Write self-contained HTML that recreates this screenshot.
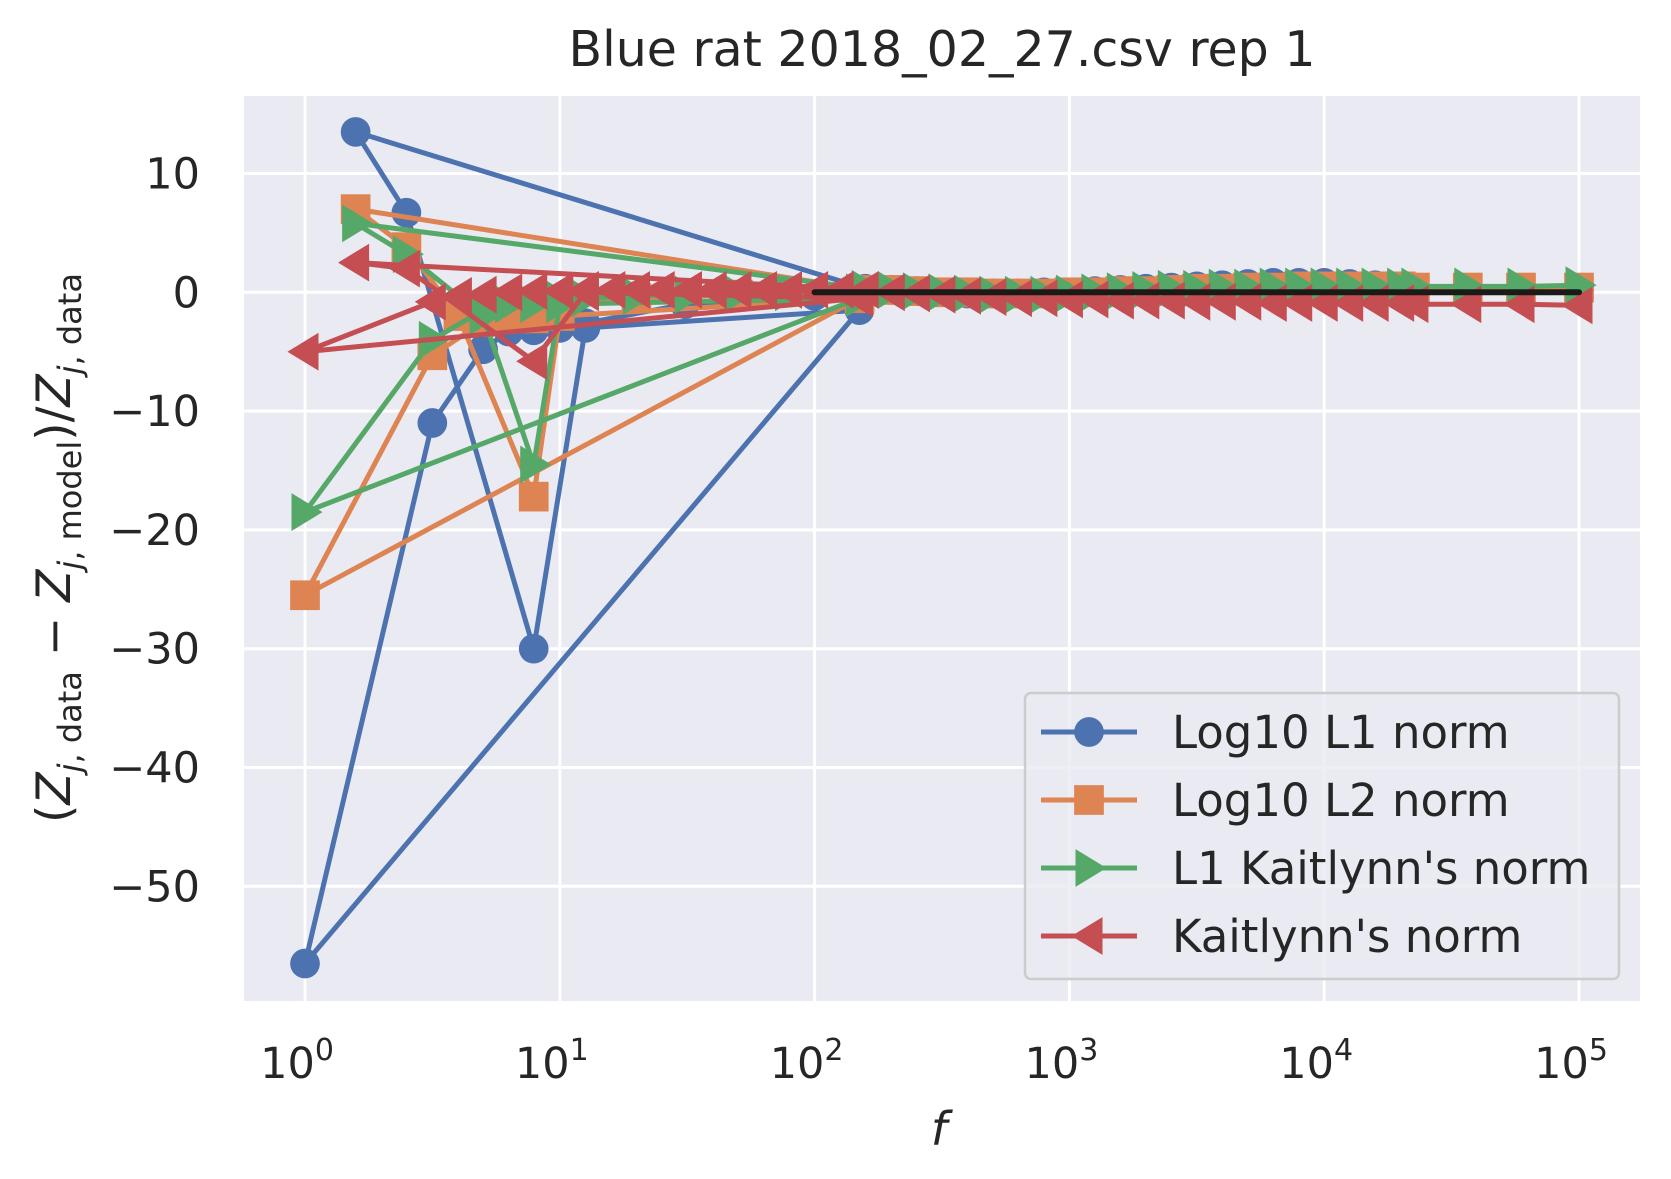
<!DOCTYPE html>
<html><head><meta charset="utf-8"><style>
html,body{margin:0;padding:0;background:#fff;}
svg{display:block;font-family:"DejaVu Sans","Liberation Sans",sans-serif;}
</style></head><body>
<svg id="chart" width="1671" height="1179" viewBox="0 0 1671 1179" xmlns="http://www.w3.org/2000/svg">
<rect x="0" y="0" width="1671" height="1179" fill="#fff"/>
<text x="942" y="66" font-size="49" text-anchor="middle" fill="#262626">Blue rat 2018_02_27.csv rep 1</text>
<rect x="244" y="96" width="1396" height="905" fill="#EAEAF2"/>
<g id="grid"></g>
<g id="series"></g>
<g id="ticks"></g>
<text x="939" y="1145" font-size="46" font-style="italic" text-anchor="middle" fill="#262626">f</text>
<text transform="translate(70,548) rotate(-90)" font-size="47" text-anchor="middle" fill="#262626">(<tspan font-style="italic">Z</tspan><tspan font-size="32" dy="11"><tspan font-style="italic">j</tspan>, data</tspan><tspan dy="-11"> − </tspan><tspan font-style="italic">Z</tspan><tspan font-size="32" dy="11"><tspan font-style="italic">j</tspan>, model</tspan><tspan dy="-11">)/</tspan><tspan font-style="italic">Z</tspan><tspan font-size="32" dy="11"><tspan font-style="italic">j</tspan>, data</tspan></text>
<g id="legend">
<rect x="1025" y="693" width="594" height="286" rx="6" fill="#EAEAF2" fill-opacity="0.8" stroke="#cccccc" stroke-width="2.5"/>
</g>
</svg>
<script>
const xTicks = [1, 10, 100, 1000, 10000, 100000];
const xTickExp = ["0", "1", "2", "3", "4", "5"];
const yTicks = [10, 0, -10, -20, -30, -40, -50];
const yTickLabels = ["10", "0", "\u221210", "\u221220", "\u221230", "\u221240", "\u221250"];
const seriesNames = ["Log10 L1 norm", "Log10 L2 norm", "L1 Kaitlynn's norm", "Kaitlynn's norm"];
const seriesColors = ["#4C72B0", "#DD8452", "#55A868", "#C44E52"];
const seriesMarkers = ["circle", "square", "tri-right", "tri-left"];

const hfFreq = [100000, 59200, 36600, 22700, 19953, 15849, 12589, 10000, 7943, 6310, 5012, 3981, 3162, 2512, 1995, 1585, 1259, 1000, 794, 631, 501, 398, 316, 251, 200, 158];
const hfBlue = [0.2, 0.2, 0.3, 0.4, 0.5, 0.6, 0.7, 0.8, 0.8, 0.8, 0.7, 0.6, 0.5, 0.4, 0.3, 0.2, 0.1, 0, 0, -0.1, -0.1, -0.1, 0, 0.1, 0.2, 0.3];
const hfOrange = [0.4, 0.4, 0.4, 0.4, 0.5, 0.5, 0.5, 0.5, 0.5, 0.4, 0.4, 0.3, 0.3, 0.2, 0.1, 0.1, 0, 0, -0.1, -0.1, -0.1, 0, 0, 0.1, 0.2, 0.2];
const hfGreen = [0.6, 0.5, 0.5, 0.5, 0.5, 0.5, 0.5, 0.5, 0.5, 0.5, 0.4, 0.4, 0.3, 0.3, 0.2, 0.1, 0, -0.1, -0.2, -0.2, -0.2, -0.1, 0, 0.1, 0.2, 0.3];
const hfRed = [-1.1, -1.0, -1.0, -1.0, -0.9, -0.9, -0.9, -0.9, -0.9, -0.9, -0.8, -0.8, -0.8, -0.7, -0.7, -0.7, -0.6, -0.6, -0.5, -0.5, -0.4, -0.3, -0.2, -0.1, 0, 0.2];

const lfBlueF = [1.58, 2.5, 7.9, 12.6, 150, 1, 3.16, 5, 6.3, 7.9, 10, 12.6, 31, 100, 150];
const lfBlueV = [13.5, 6.7, -30, -3, -1.5, -56.5, -11, -4.8, -3.3, -3.2, -3, -2.6, -1, -0.3, 0];
const lfOrangeF = [1.58, 2.5, 4, 7.9, 10, 150, 1, 3.16, 5, 6.3, 7.9, 10, 20, 50, 150];
const lfOrangeV = [7, 3.8, -2, -17.2, -2, -0.5, -25.5, -5.3, -2.5, -2, -2.2, -1, -0.5, -0.2, 0];
const lfGreenF = [1.58, 2.5, 5, 7.9, 10, 150, 1, 3.16, 5, 6.3, 7.9, 10, 12.6, 20, 32, 50, 79, 150];
const lfGreenV = [5.8, 3.2, -2, -14.5, -1, -0.5, -18.5, -4, -1.5, -1, -1, -0.6, -0.5, -0.3, -0.2, -0.1, 0, 0];
const lfRedF = [1.58, 2.5, 7.9, 12.6, 150, 1, 3.16, 4, 5, 6.3, 7.9, 10, 12.6, 16, 20, 25, 32, 40, 50, 63, 79, 100, 126];
const lfRedV = [2.5, 2, -5.8, 0, -0.5, -5, -0.8, -0.3, -0.2, 0, 0.1, 0.1, 0.2, 0.2, 0.2, 0.2, 0.2, 0.2, 0.2, 0.2, 0.2, 0.2, 0.2];

const refLineF = [100, 100000];
const refLineV = [0, 0];

const NS = "http://www.w3.org/2000/svg";
const X0 = 305, DEC = 254.8, Y0 = 292.3, PER = 11.88;
function xs(f){ return X0 + Math.log10(f) * DEC; }
function ys(v){ return Y0 - v * PER; }
function mk(tag, attrs, parent){ const e = document.createElementNS(NS, tag); for (const k in attrs) e.setAttribute(k, attrs[k]); parent.appendChild(e); return e; }

const grid = document.getElementById('grid');
xTicks.forEach((t, i) => {
  const l = mk('line', {x1: xs(t), x2: xs(t), y1: 96, y2: 1001, stroke: '#fff', 'stroke-width': 3}, grid);
  
  
});
yTicks.forEach((t, i) => {
  const l = mk('line', {x1: 244, x2: 1640, y1: ys(t), y2: ys(t), stroke: '#fff', 'stroke-width': 3}, grid);
  
  
});
const ticks = document.getElementById('ticks');
xTicks.forEach((t, i) => {
  const tx = mk('text', {x: xs(t) - 8, y: 1078, 'font-size': 43, 'text-anchor': 'middle', fill: '#262626'}, ticks);
  
  
  tx.textContent = '10';
  const sp = document.createElementNS(NS, 'tspan');
  sp.setAttribute('font-size', 30); sp.setAttribute('dy', -18);
  sp.textContent = xTickExp[i];
  tx.appendChild(sp);
});
yTicks.forEach((t, i) => {
  const tx = mk('text', {x: 200, y: ys(t) + 15, 'font-size': 43, 'text-anchor': 'end', fill: '#262626'}, ticks);
  
  
  tx.textContent = yTickLabels[i];
});

function marker(type, cx, cy, color, parent, s){
  s = s || 1.35;
  let e;
  if (type === 'circle') e = mk('circle', {cx: cx, cy: cy, r: 11 * s, fill: color}, parent);
  else if (type === 'square') e = mk('rect', {x: cx - 11 * s, y: cy - 11 * s, width: 22 * s, height: 22 * s, fill: color}, parent);
  else if (type === 'tri-right') e = mk('polygon', {points: `${cx + 13 * s},${cy} ${cx - 10 * s},${cy - 14 * s} ${cx - 10 * s},${cy + 14 * s}`, fill: color}, parent);
  else e = mk('polygon', {points: `${cx - 13 * s},${cy} ${cx + 10 * s},${cy - 14 * s} ${cx + 10 * s},${cy + 14 * s}`, fill: color}, parent);
  return e;
}

const seriesF = [hfFreq.concat(lfBlueF), hfFreq.concat(lfOrangeF), hfFreq.concat(lfGreenF), hfFreq.concat(lfRedF)];
const seriesV = [hfBlue.concat(lfBlueV), hfOrange.concat(lfOrangeV), hfGreen.concat(lfGreenV), hfRed.concat(lfRedV)];
const sg = document.getElementById('series');
seriesF.forEach((F, si) => {
  const g = mk('g', {}, sg);
  
  
  const pts = F.map((f, i) => xs(f).toFixed(1) + ',' + ys(seriesV[si][i]).toFixed(1)).join(' ');
  const pl = mk('polyline', {points: pts, fill: 'none', stroke: seriesColors[si], 'stroke-width': 5, 'stroke-linejoin': 'round'}, g);
  
  
  F.forEach((f, i) => {
    const m = marker(seriesMarkers[si], xs(f), ys(seriesV[si][i]), seriesColors[si], g);
    
    
  });
});
const ref = mk('line', {x1: xs(refLineF[0]), x2: xs(refLineF[1]), y1: ys(refLineV[0]), y2: ys(refLineV[1]), stroke: '#1a1a1a', 'stroke-width': 6, 'stroke-linecap': 'round'}, sg);



const lg = document.getElementById('legend');
seriesNames.forEach((n, i) => {
  const y = 732 + i * 68;
  const g = mk('g', {}, lg);
  
  
  mk('line', {x1: 1041, x2: 1137, y1: y, y2: y, stroke: seriesColors[i], 'stroke-width': 5}, g);
  marker(seriesMarkers[i], 1089, y, seriesColors[i], g);
  const t = mk('text', {x: 1172, y: y + 16, 'font-size': 45, fill: '#262626'}, g);
  t.textContent = n;
});
</script>
</body></html>
